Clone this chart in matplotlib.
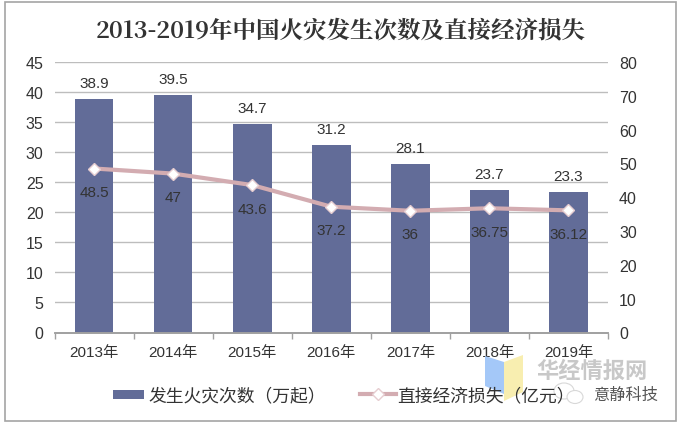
import numpy as np
import matplotlib.pyplot as plt
from matplotlib.patches import Rectangle, Polygon, Ellipse

plt.rcParams['font.family'] = ['Liberation Sans', 'Noto Sans CJK SC']

years = ["2013年","2014年","2015年","2016年","2017年","2018年","2019年"]
fires = [38.9,39.5,34.7,31.2,28.1,23.7,23.3]
losses = [48.5,47,43.6,37.2,36,36.75,36.12]
fire_labels = ["38.9","39.5","34.7","31.2","28.1","23.7","23.3"]
loss_labels = ["48.5","47","43.6","37.2","36","36.75","36.12"]

W = 679
H = 427
fig = plt.figure(figsize=(W/100,H/100),dpi=100)
ax = fig.add_axes([54.5/W,1-333.5/H,(608-54.5)/W,(333.5-63)/H])
ax2 = ax.twinx()
x = np.arange(len(years))
txt = "#333333"

ax.bar(x,fires,width=0.49,color="#626c98",label="发生火灾次数（万起）")
ax2.plot(x,losses,color="#d3acb1",lw=3,marker="D",ms=6.5,mfc="white",mec="#e6cdd0",mew=1,label="直接经济损失（亿元）")

ax.set_xlim(-0.5,6.5)
ax.set_ylim(0,45)
ax.set_yticks(range(0,46,5))
ax2.set_ylim(0,80)
ax2.set_yticks(range(0,81,10))
ax.set_xticks(x)
ax.set_xticklabels(years)
ax.set_xticks(np.arange(-0.5,7,1),minor=True)
ax.grid(axis="y",color="#bdbdbd",lw=1)
ax.set_axisbelow(True)
ax.tick_params(axis="y",length=0,labelsize=11.5,colors=txt,pad=8)
ax.tick_params(axis="x",length=0,labelsize=11,colors=txt,pad=9)
ax.tick_params(axis="x",which="minor",length=4,color="#a0a0a0",width=1,direction="out")
ax2.tick_params(axis="y",length=0,labelsize=11.5,colors=txt,pad=8)
for a in (ax,ax2):
    for s in ("top","left","right"):
        a.spines[s].set_visible(False)
    a.spines["bottom"].set_color("#a0a0a0")
    a.spines["bottom"].set_linewidth(1.2)

for i in range(len(x)):
    ax.annotate(fire_labels[i],(x[i],fires[i]),xytext=(0,11.5),textcoords="offset points",
                ha="center",va="center",fontsize=11,color=txt)
    ax2.annotate(loss_labels[i],(x[i],losses[i]),xytext=(0,-17),textcoords="offset points",
                 ha="center",va="center",fontsize=11,color=txt)

fig.text(341/W,1-31/H,"2013-2019年中国火灾发生次数及直接经济损失",ha="center",va="center",
         fontsize=16.9,fontweight="bold",family=["Noto Serif CJK SC","Noto Sans CJK SC"],color=txt)

h1,l1 = ax.get_legend_handles_labels()
h2,l2 = ax2.get_legend_handles_labels()
fig.legend(h1,l1,loc="center left",bbox_to_anchor=(113/W,1-397/H),frameon=False,fontsize=12.8,borderpad=0,
           borderaxespad=0,handlelength=1.75,handleheight=0.4,handletextpad=0.25,labelcolor=txt)
fig.legend(h2,l2,loc="center left",bbox_to_anchor=(360/W,1-397/H),frameon=False,fontsize=12.8,borderpad=0,
           borderaxespad=0,handlelength=2.05,handletextpad=0.05,labelcolor=txt)

# watermark
def px(pts):
    return [(a/W,1-b/H) for a,b in pts]

fig.add_artist(Polygon(px([(485,357),(504,363),(504,395),(485,387)]),transform=fig.transFigure,fc="#a4c8f8",ec="none"))
fig.add_artist(Polygon(px([(504,363),(523,356),(523,393),(504,402)]),transform=fig.transFigure,fc="#f8eeb0",ec="none"))
fig.text(592/W,1-372/H,"华经情报网",ha="center",va="center",fontsize=16,fontweight="bold",color="#c8c8c8")
fig.text(626/W,1-395/H,"意静科技",ha="center",va="center",fontsize=11.7,color="#555555")
for cx,cy,rw,rh in [(564,392,20,16),(575,398,16,13)]:
    fig.add_artist(Ellipse((cx/W,1-cy/H),rw/W,rh/H,transform=fig.transFigure,fc="white",ec="#d8d8d8",lw=0.8,zorder=5))

fig.add_artist(Rectangle((5/W,1-422/H),(676-5)/W,(422-3)/H,transform=fig.transFigure,fill=False,ec="#a4a4a4",lw=1.2))

fig.savefig("out.png",dpi=100)
